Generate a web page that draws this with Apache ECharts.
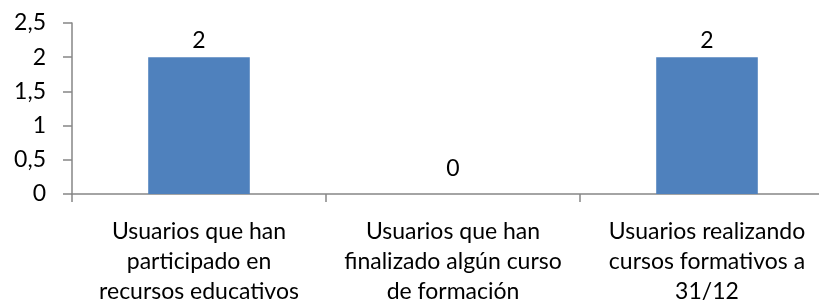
<!DOCTYPE html>
<html>
<head>
<meta charset="utf-8">
<script src="https://cdn.jsdelivr.net/npm/echarts@6/dist/echarts.min.js"></script>
<style>
html,body{margin:0;padding:0;background:#fff;overflow:hidden;width:819px;height:307px;}
#chart{width:834px;height:307px;}
</style>
</head>
<body>
<div id="chart"></div>
<script>
var categories = [
  'Usuarios que han\nparticipado en\nrecursos educativos',
  'Usuarios que han\nfinalizado algún curso\nde formación',
  'Usuarios realizando\ncursos formativos a\n31/12'
];
var values = [2, 0, 2];
var yTicks = [0, 0.5, 1, 1.5, 2, 2.5];

var FONT = 'Lato';
var chart = echarts.init(document.getElementById('chart'), null, {renderer: 'canvas'});
chart.setOption({
  animation: false,
  backgroundColor: '#ffffff',
  grid: {left: 72, top: 23, bottom: 113, right: 0, containLabel: false},
  xAxis: {
    type: 'category',
    data: categories,
    axisLine: {lineStyle: {color: '#868686', width: 1.5}},
    axisTick: {show: true, length: 8, alignWithLabel: false, lineStyle: {color: '#868686', width: 1.5}},
    axisLabel: {
      interval: 0, margin: 23, color: '#000', fontFamily: FONT, fontSize: 23, lineHeight: 30
    },
    splitLine: {show: false}
  },
  yAxis: {
    type: 'value',
    min: yTicks[0], max: yTicks[yTicks.length - 1], interval: 0.5,
    axisLine: {show: true, lineStyle: {color: '#868686', width: 1.5}},
    axisTick: {show: true, length: 9, lineStyle: {color: '#868686', width: 1.5}},
    splitLine: {show: false},
    axisLabel: {
      margin: 26, color: '#000', fontFamily: FONT, fontSize: 23,
      padding: [4, 0, 0, 0],
      formatter: function (v) { return String(v).replace('.', ','); }
    }
  },
  series: [{
    type: 'bar',
    data: values.map(function (v) {
      return {value: v, label: {distance: v === 0 ? 14 : 5}};
    }),
    barWidth: '40%',
    itemStyle: {color: '#4F81BD'},
    label: {show: true, position: 'top', color: '#000', fontFamily: FONT, fontSize: 23}
  }]
});
</script>
</body>
</html>
